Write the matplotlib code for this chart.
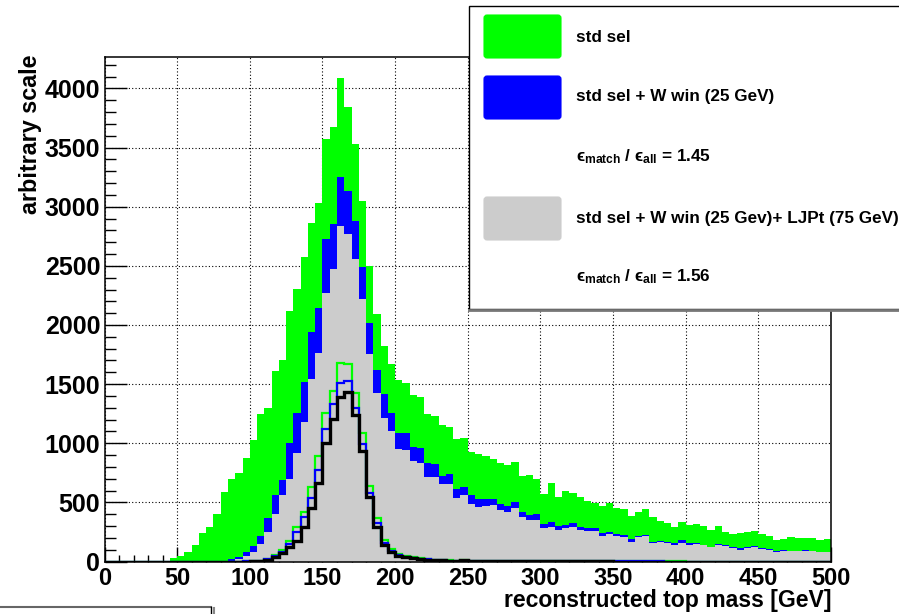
import numpy as np
import matplotlib
matplotlib.use("Agg")
import matplotlib.pyplot as plt
from matplotlib.patches import Rectangle, FancyBboxPatch
from matplotlib.ticker import MultipleLocator

plt.rcParams['font.family'] = ['Liberation Sans', 'DejaVu Sans']
plt.rcParams['font.weight'] = 'bold'
plt.rcParams['mathtext.fontset'] = 'custom'
plt.rcParams['mathtext.rm'] = 'Liberation Sans:bold'
plt.rcParams['mathtext.bf'] = 'Liberation Sans:bold'
plt.rcParams['mathtext.it'] = 'Liberation Sans:bold'

# 100 bins of 5 GeV, 0 - 500 GeV
edges = np.arange(0, 505, 5)

# std sel (filled green)
std_sel = [
    0, 0, 0, 0, 0, 0, 0, 0, 0, 26,
    45, 78, 140, 238, 292, 398, 588, 695, 750, 876,
    1025, 1250, 1296, 1608, 1702, 2115, 2305, 2578, 2860, 3030,
    3574, 3671, 4086, 3843, 3533, 3052, 2497, 2097, 1822, 1667,
    1533, 1510, 1404, 1387, 1250, 1230, 1153, 1134, 1037, 1043,
    923, 906, 892, 867, 836, 816, 844, 723, 732, 698,
    571, 661, 548, 596, 576, 548, 514, 498, 469, 498,
    455, 445, 388, 416, 441, 373, 343, 323, 295, 337,
    309, 314, 300, 266, 303, 252, 232, 244, 252, 261,
    232, 218, 182, 190, 210, 196, 201, 201, 182, 190,
]

# std sel + W win (25 GeV) (filled blue)
w_win = [
    0, 0, 0, 0, 0, 0, 0, 0, 0, 0,
    0, 0, 0, 0, 0, 0, 4, 18, 35, 80,
    134, 219, 365, 563, 690, 1001, 1257, 1517, 1940, 2145,
    2729, 2850, 3250, 3132, 2878, 2489, 2019, 1616, 1413, 1258,
    1089, 1083, 967, 956, 832, 823, 723, 740, 613, 633,
    562, 529, 529, 529, 486, 472, 500, 416, 393, 399,
    314, 337, 303, 309, 323, 295, 281, 281, 238, 252,
    230, 220, 187, 218, 227, 168, 176, 168, 154, 182,
    154, 154, 142, 125, 145, 139, 125, 117, 125, 134,
    111, 103, 89, 97, 92, 92, 95, 92, 83, 83,
]

# std sel + W win (25 GeV) + LJPt (75 GeV) (filled grey)
w_win_ljpt = [
    0, 0, 0, 0, 0, 0, 0, 0, 0, 0,
    0, 0, 0, 0, 0, 0, 0, 8, 20, 45,
    83, 150, 250, 400, 560, 700, 915, 1179, 1545, 1765,
    2267, 2475, 2836, 2766, 2554, 2216, 1751, 1427, 1215, 1103,
    953, 947, 849, 835, 714, 712, 653, 655, 540, 562,
    486, 458, 469, 478, 436, 421, 455, 379, 351, 351,
    281, 295, 266, 286, 295, 266, 261, 261, 218, 232,
    218, 210, 168, 210, 216, 154, 165, 154, 139, 159,
    139, 148, 137, 120, 139, 134, 117, 97, 117, 125,
    106, 97, 83, 89, 89, 86, 89, 86, 80, 80,
]

# matched events for each selection (outlines)
std_sel_match = [
    0, 0, 0, 0, 0, 0, 0, 0, 0, 0,
    0, 0, 0, 0, 0, 0, 0, 0, 0, 2,
    5, 8, 22, 55, 95, 175, 294, 422, 628, 895,
    1253, 1444, 1680, 1666, 1424, 1089, 637, 364, 181, 102,
    65, 45, 35, 28, 22, 16, 12, 10, 8, 9,
    6, 5, 5, 4, 4, 4, 3, 3, 3, 3,
    3, 3, 2, 2, 2, 2, 2, 2, 2, 1,
    1, 1, 1, 1, 1, 1, 1, 1, 1, 1,
    0, 0, 0, 0, 0, 0, 0, 0, 0, 0,
    0, 0, 0, 0, 0, 0, 0, 0, 0, 0,
]
w_win_match = [
    0, 0, 0, 0, 0, 0, 0, 0, 0, 0,
    0, 0, 0, 0, 0, 0, 0, 0, 0, 1,
    4, 6, 19, 48, 82, 150, 251, 380, 537, 772,
    1124, 1330, 1511, 1525, 1296, 990, 581, 327, 160, 90,
    55, 40, 30, 24, 18, 14, 10, 8, 7, 8,
    5, 4, 4, 3, 3, 3, 2, 2, 2, 2,
    2, 2, 2, 1, 1, 1, 1, 1, 1, 1,
    1, 1, 1, 1, 1, 1, 1, 0, 0, 0,
    0, 0, 0, 0, 0, 0, 0, 0, 0, 0,
    0, 0, 0, 0, 0, 0, 0, 0, 0, 0,
]
w_win_ljpt_match = [
    0, 0, 0, 0, 0, 0, 0, 0, 0, 0,
    0, 0, 0, 0, 0, 0, 0, 0, 0, 0,
    2, 5, 16, 42, 70, 122, 174, 290, 450, 668,
    998, 1207, 1395, 1430, 1242, 933, 547, 294, 138, 80,
    50, 36, 27, 22, 16, 12, 9, 7, 6, 10,
    4, 3, 3, 2, 2, 2, 2, 2, 2, 2,
    1, 1, 1, 1, 1, 1, 1, 1, 1, 1,
    0, 0, 0, 0, 0, 0, 0, 0, 0, 0,
    0, 0, 0, 0, 0, 0, 0, 0, 0, 0,
    0, 0, 0, 0, 0, 0, 0, 0, 0, 0,
]

legend_labels = ['std sel', 'std sel + W win (25 GeV)',
                 'std sel + W win (25 Gev)+ LJPt (75 GeV)']
eff_ratios = [1.45, 1.56]

green = '#00ff00'
blue = '#0000ff'
grey = '#cccccc'

W, H = 899, 614
fig = plt.figure(figsize=(W / 100, H / 100), dpi=100)
ax = fig.add_axes([104.5 / W, 1 - 561.5 / H, 726.5 / W, 504.5 / H])

ax.stairs(std_sel, edges, fill=True, color=green, lw=0, zorder=2)
ax.stairs(w_win, edges, fill=True, color=blue, lw=0, zorder=3)
ax.stairs(w_win_ljpt, edges, fill=True, color=grey, lw=0, zorder=4)
ax.stairs(std_sel_match, edges, color=green, lw=1.6, zorder=5)
ax.stairs(w_win_match, edges, color=blue, lw=1.6, zorder=6)
ax.stairs(w_win_ljpt_match, edges, color='black', lw=2.4, zorder=7)

ax.set_xlim(0, 500)
ax.set_ylim(0, 4266)
ax.xaxis.set_major_locator(MultipleLocator(50))
ax.xaxis.set_minor_locator(MultipleLocator(10))
ax.yaxis.set_major_locator(MultipleLocator(500))
ax.yaxis.set_minor_locator(MultipleLocator(100))
ax.tick_params(axis='x', which='major', direction='in', length=10.5, width=1, labelsize=17, pad=4)
ax.tick_params(axis='x', which='minor', direction='in', length=5, width=1)
ax.tick_params(axis='y', which='major', direction='in', length=15.5, width=1, labelsize=18, pad=3)
ax.tick_params(axis='y', which='minor', direction='in', length=8, width=1)
for lab in ax.get_xticklabels() + ax.get_yticklabels():
    lab.set_fontweight('bold')
ax.grid(True, which='major', color='black', linestyle=(0, (1, 2)), lw=0.8, zorder=1)
ax.set_axisbelow(True)
for s in ax.spines.values():
    s.set_linewidth(1.1)
    s.set_zorder(8)

fig.text(31 / W, 1 - 55 / H, 'arbitrary scale', rotation=90, ha='center', va='top',
         fontsize=16.8, fontweight='bold')
fig.text(832 / W, 1 - 601 / H, 'reconstructed top mass [GeV]', ha='right', va='center',
         fontsize=16.6, fontweight='bold')

# legend pad drawn in pixel coordinates on top of everything
ov = fig.add_axes([0, 0, 1, 1], zorder=10)
ov.set_xlim(0, W)
ov.set_ylim(H, 0)
ov.axis('off')
ov.patch.set_alpha(0)

ov.add_patch(Rectangle((468.5, 5.5), 460, 303, facecolor='white', edgecolor='black', lw=1))
ov.plot([469, W], [309.5, 309.5], color='#777777', lw=2)

swatches = [(14, green), (75, blue), (196, grey)]
for y0, c in swatches:
    ov.add_patch(FancyBboxPatch((484, y0 + 1), 77, 43, boxstyle='round,pad=0,rounding_size=3',
                                facecolor=c, edgecolor=c, lw=0.8))

text_kw = dict(fontsize=12.3, fontweight='bold', va='center', ha='left')
ov.text(576, 38, legend_labels[0], **text_kw)
ov.text(576, 97, legend_labels[1], **text_kw)
ov.text(576, 218, legend_labels[2], **text_kw)
eps = '\u03f5'
for y, r in zip([157, 277], eff_ratios):
    ov.text(576, y, eps + r'$_{\mathbf{match}}$ / ' + eps + r'$_{\mathbf{all}}$ = %.2f' % r,
            **text_kw)

# corner of the second pad at the bottom left
ov.plot([0, 211], [606.5, 606.5], color='#666666', lw=1.5)
ov.plot([211, 211], [606.5, H], color='black', lw=1)
ov.plot([213.5, 213.5], [608, H], color='#888888', lw=1.5)

fig.savefig('out.png', dpi=100)
